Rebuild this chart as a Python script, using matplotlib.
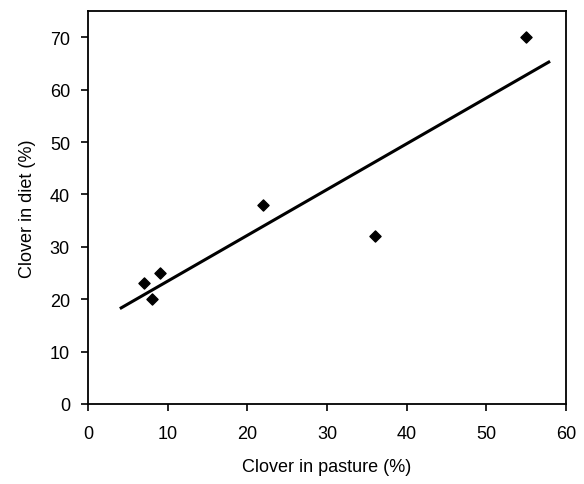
import matplotlib
matplotlib.use("Agg")
import matplotlib.pyplot as plt

pasture = [7, 8, 9, 22, 36, 55]
diet = [23, 20, 25, 38, 32, 70]
trend_x = [4, 58]
trend_y = [18.2, 65.4]
x_ticks = [0, 10, 20, 30, 40, 50, 60]
y_ticks = [0, 10, 20, 30, 40, 50, 60, 70]

plt.rcParams['font.family'] = ['Liberation Sans', 'DejaVu Sans']

fig = plt.figure(figsize=(5.84, 4.85), dpi=100)
ax = fig.add_axes([88/584, 80/485, (566-88)/584, (405-12)/485])
ax.plot(trend_x, trend_y, color='black', lw=2.2, solid_capstyle='butt')
ax.scatter(pasture, diet, marker='D', s=32, color='black', zorder=3)
ax.set_xlim(0, 60)
ax.set_ylim(0, 75)
ax.set_xticks(x_ticks)
ax.set_yticks(y_ticks)
ax.tick_params(direction='out', length=5, width=1.2, labelsize=13, colors='black')
ax.tick_params(axis='x', pad=10)
ax.tick_params(axis='y', pad=8)
for s in ax.spines.values():
    s.set_linewidth(1.3)
ax.set_xlabel('Clover in pasture (%)', fontsize=13, labelpad=12)
ax.set_ylabel('Clover in diet (%)', fontsize=13, labelpad=10)
fig.savefig('out.png', dpi=100)
